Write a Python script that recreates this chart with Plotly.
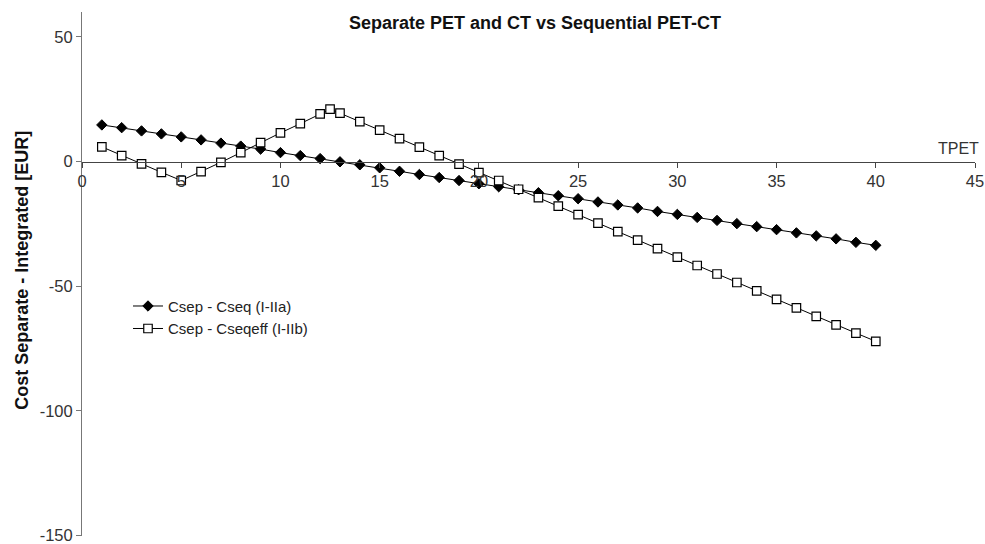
import plotly.graph_objects as go

x_seq = list(range(1, 41))
c_seq = [14.7, 13.6, 12.3, 11.1, 9.9, 8.7, 7.4, 6.2, 5.0, 3.6,
         2.4, 1.2, -0.1, -1.3, -2.5, -3.9, -5.2, -6.4, -7.6, -8.9,
         -10.1, -11.3, -12.5, -13.7, -14.9, -16.2, -17.4, -18.6, -20.0, -21.2,
         -22.4, -23.6, -24.9, -26.1, -27.3, -28.6, -29.8, -31.0, -32.4, -33.6]

x_eff = [1, 2, 3, 4, 5, 6, 7, 8, 9, 10, 11, 12, 12.5, 13, 14, 15, 16, 17, 18, 19, 20,
         21, 22, 23, 24, 25, 26, 27, 28, 29, 30, 31, 32, 33, 34, 35, 36, 37, 38, 39, 40]
c_eff = [5.9, 2.4, -0.9, -4.3, -7.6, -4.0, -0.3, 3.6, 7.6, 11.5, 15.2, 19.1, 21.0, 19.4,
         16.0, 12.6, 9.2, 5.8, 2.4, -1.0, -4.4, -7.6, -11.1, -14.5, -17.9, -21.3, -24.7,
         -28.1, -31.5, -34.9, -38.3, -41.7, -45.1, -48.5, -51.9, -55.3, -58.7, -62.1,
         -65.5, -68.8, -72.1]

names = ["Csep - Cseq (I-IIa)", "Csep - Cseqeff (I-IIb)"]
x_ticks = [0, 5, 10, 15, 20, 25, 30, 35, 40, 45]
y_ticks = [-150, -100, -50, 0, 50]
y_ticktext = ["-150", "-100", "-50", "0", "50"]

FONT = "Liberation Sans, Arial, sans-serif"
W, H = 985, 544
ml, mr, mt, mb = 82, 10, 12, 7.5
y_min, y_max = -150.2, 60
zero_pos = (0 - y_min) / (y_max - y_min)
PW = W - ml - mr
PH = H - mt - mb

fig = go.Figure()
fig.add_trace(go.Scatter(
    x=x_seq, y=c_seq, mode="lines+markers", name=names[0],
    line=dict(color="black", width=1),
    marker=dict(symbol="diamond", size=8, color="black", line=dict(color="black", width=1)),
))
fig.add_trace(go.Scatter(
    x=x_eff, y=c_eff, mode="lines+markers", name=names[1],
    line=dict(color="black", width=1),
    marker=dict(symbol="square", size=8.5, color="white", line=dict(color="black", width=1.2)),
))

fig.update_layout(
    width=W, height=H,
    margin=dict(l=ml, r=mr, t=mt, b=mb, autoexpand=False),
    paper_bgcolor="white", plot_bgcolor="white",
    font=dict(family=FONT, color="#222"),
    showlegend=True,
    legend=dict(x=(133 - 5 - ml) / PW, y=(H - mb - 290) / PH, xanchor="left", yanchor="top",
                font=dict(size=15, family=FONT, color="#222"),
                bgcolor="rgba(0,0,0,0)", tracegroupgap=0, itemwidth=30),
    xaxis=dict(range=[0, 45], tickvals=x_ticks, anchor="free", position=zero_pos,
               automargin=False, ticklabeloverflow="allow",
               showgrid=False, zeroline=False, showline=True, linecolor="#444", linewidth=1,
               ticks="outside", ticklen=5, tickcolor="#444",
               tickfont=dict(size=16.5, family=FONT, color="#333")),
    yaxis=dict(range=[y_min, y_max], tickvals=y_ticks, ticktext=y_ticktext,
               automargin=False, ticklabeloverflow="allow",
               showgrid=False, zeroline=False, showline=True, linecolor="#777", linewidth=1,
               ticks="outside", ticklen=5, tickcolor="#777",
               tickfont=dict(size=16.5, family=FONT, color="#333")),
    annotations=[
        dict(text="<b>Separate PET and CT vs Sequential PET-CT</b>", xref="paper", yref="paper",
             x=(535 - ml) / PW, y=(H - mb - 23) / PH,
             xanchor="center", yanchor="middle", showarrow=False,
             font=dict(size=18, family=FONT, color="#111")),
        dict(text="<b>Cost Separate - Integrated [EUR]</b>", xref="paper", yref="paper",
             x=(22 - ml) / PW, y=(H - mb - 271) / PH, textangle=-90,
             xanchor="center", yanchor="middle", showarrow=False,
             font=dict(size=18, family=FONT, color="#111")),
        dict(text="TPET", xref="x", yref="y", x=45, y=0, xanchor="right", yanchor="bottom",
             yshift=3, xshift=6, showarrow=False, font=dict(size=16, family=FONT, color="#333")),
    ],
)

fig.write_html("out.html", config={"displayModeBar": False},
               post_script="document.body.style.margin='0';document.body.style.overflow='hidden';")
